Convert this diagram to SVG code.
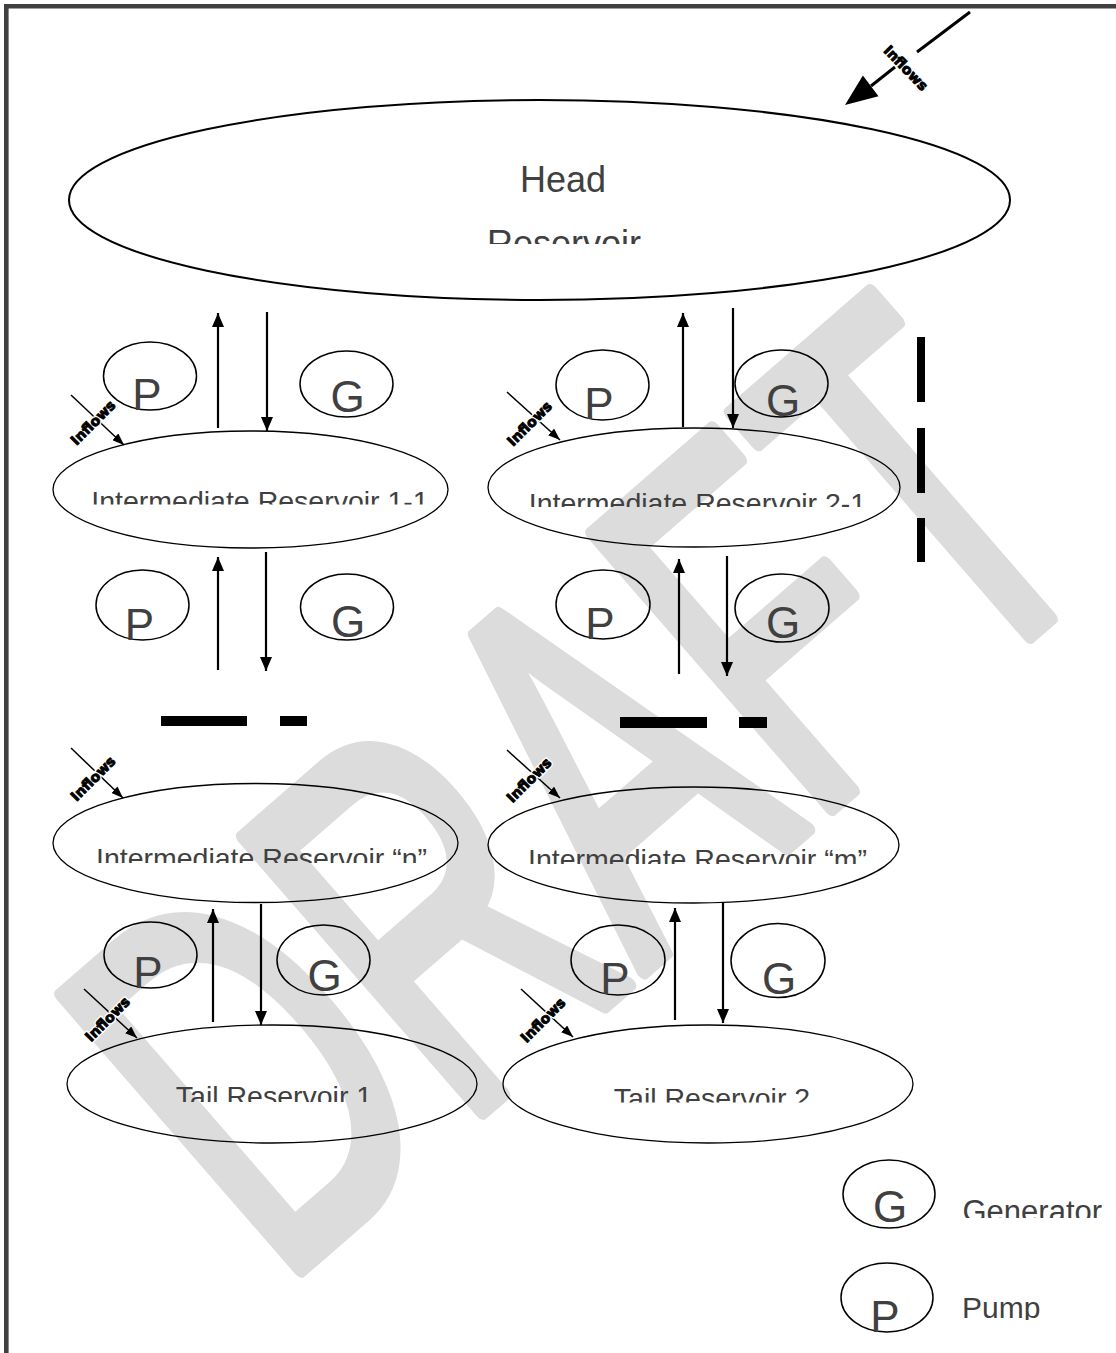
<svg xmlns="http://www.w3.org/2000/svg" width="1116" height="1353" viewBox="0 0 1116 1353">
<style>
.res{fill:none;stroke:#000;stroke-width:1.3}
.pg{fill:none;stroke:#000;stroke-width:1.5}
.lbl{font-family:"Liberation Sans",Arial,sans-serif;fill:#404040;text-anchor:middle}
.big{font-size:28.5px}
.sym{font-size:44px}
.inf{font-family:"DejaVu Sans",sans-serif;font-weight:bold;font-size:14px;text-anchor:middle}
.halo{fill:#fff;stroke:#fff;stroke-width:3.5}
.ink{fill:#000;stroke:#000;stroke-width:0.9}
.conn{stroke:#000;stroke-width:2.2;fill:none}
.inl{stroke:#000;stroke-width:1.5;fill:none}
.dash{fill:#000}
</style>
<defs>
<marker id="ah" markerUnits="userSpaceOnUse" markerWidth="14" markerHeight="12" refX="14" refY="6" orient="auto"><path d="M0,0 L14,6 L0,12 z" fill="#000"/></marker>
<marker id="ahs" markerUnits="userSpaceOnUse" markerWidth="12" markerHeight="9" refX="12" refY="4.5" orient="auto"><path d="M0,0 L12,4.5 L0,9 z" fill="#000"/></marker>
<clipPath id="cHead2"><rect x="0" y="0" width="1116" height="244"/></clipPath>
<clipPath id="c11"><rect x="0" y="0" width="1116" height="504.5"/></clipPath>
<clipPath id="c21"><rect x="0" y="0" width="1116" height="507"/></clipPath>
<clipPath id="cn"><rect x="0" y="0" width="1116" height="863"/></clipPath>
<clipPath id="cm"><rect x="0" y="0" width="1116" height="864"/></clipPath>
<clipPath id="ct1"><rect x="0" y="0" width="1116" height="1102"/></clipPath>
<clipPath id="ct2"><rect x="0" y="0" width="1116" height="1102.5"/></clipPath>
<clipPath id="cgen"><rect x="0" y="0" width="1116" height="1218"/></clipPath>
<clipPath id="cpump"><rect x="0" y="0" width="1116" height="1320"/></clipPath>
</defs>
<rect x="0" y="0" width="1116" height="1353" fill="#fff"/>
<g id="watermark">
<text transform="translate(278.5,1289) rotate(-41) scale(0.63,1)" x="0" y="0" font-family="Liberation Sans, Arial, sans-serif" font-size="529" fill="#dcdcdc" stroke="#dcdcdc" stroke-width="13" stroke-linejoin="round" vector-effect="non-scaling-stroke">DRAFT</text>
</g>
<path d="M6.3,1353 V6.3 H1116" fill="none" stroke="#404040" stroke-width="4.6"/>
<g id="head">
<ellipse cx="539.5" cy="200" rx="470.5" ry="100" fill="#fff" stroke="#000" stroke-width="2"/>
<text class="lbl" x="563" y="192" font-size="36">Head</text>
<text class="lbl" x="564" y="256" font-size="36" clip-path="url(#cHead2)">Reservoir</text>
</g>
<g id="ir11">
<ellipse class="res" cx="250.5" cy="489.5" rx="197.5" ry="58.5"/>
<text class="lbl big" x="260" y="510.5" clip-path="url(#c11)">Intermediate Reservoir 1-1</text>
</g>
<g id="ir21">
<ellipse class="res" cx="694" cy="487.5" rx="206" ry="59.5"/>
<text class="lbl big" x="697.5" y="512.5" clip-path="url(#c21)">Intermediate Reservoir 2-1</text>
</g>
<g id="irn">
<ellipse class="res" cx="255.5" cy="843" rx="202.5" ry="59.5"/>
<text class="lbl big" x="261.5" y="867.5" clip-path="url(#cn)">Intermediate Reservoir “n”</text>
</g>
<g id="irm">
<ellipse class="res" cx="693.5" cy="845" rx="205.5" ry="58"/>
<text class="lbl big" x="697.5" y="868.5" clip-path="url(#cm)">Intermediate Reservoir “m”</text>
</g>
<g id="tail1">
<ellipse class="res" cx="272" cy="1084" rx="205" ry="59"/>
<text class="lbl big" x="274" y="1105.5" clip-path="url(#ct1)">Tail Reservoir 1</text>
</g>
<g id="tail2">
<ellipse class="res" cx="708" cy="1084" rx="205" ry="59"/>
<text class="lbl big" x="712" y="1107.5" clip-path="url(#ct2)">Tail Reservoir 2</text>
</g>
<g id="p1l"><ellipse class="pg" cx="150" cy="376" rx="46.5" ry="34"/><text class="lbl sym" x="147" y="410">P</text></g>
<g id="g1l"><ellipse class="pg" cx="346.5" cy="384" rx="46.5" ry="33"/><text class="lbl sym" x="347.5" y="412">G</text></g>
<g id="p1r"><ellipse class="pg" cx="602.5" cy="385" rx="46.5" ry="35"/><text class="lbl sym" x="599" y="419">P</text></g>
<g id="g1r"><ellipse class="pg" cx="781.5" cy="383.5" rx="46.5" ry="33.5"/><text class="lbl sym" x="783" y="416">G</text></g>
<g id="p2l"><ellipse class="pg" cx="142.5" cy="605" rx="46.5" ry="35"/><text class="lbl sym" x="139.5" y="640">P</text></g>
<g id="g2l"><ellipse class="pg" cx="347" cy="607" rx="46.5" ry="33"/><text class="lbl sym" x="348" y="637">G</text></g>
<g id="p2r"><ellipse class="pg" cx="603" cy="604.5" rx="47" ry="34.5"/><text class="lbl sym" x="600" y="639">P</text></g>
<g id="g2r"><ellipse class="pg" cx="782" cy="608" rx="47" ry="34"/><text class="lbl sym" x="783" y="638">G</text></g>
<g id="p3l"><ellipse class="pg" cx="150.5" cy="955" rx="46.5" ry="33"/><text class="lbl sym" x="148" y="988">P</text></g>
<g id="g3l"><ellipse class="pg" cx="323.5" cy="960" rx="46.5" ry="35"/><text class="lbl sym" x="324.5" y="991">G</text></g>
<g id="p3r"><ellipse class="pg" cx="618" cy="960" rx="47" ry="35"/><text class="lbl sym" x="615" y="994">P</text></g>
<g id="g3r"><ellipse class="pg" cx="778" cy="960.5" rx="47" ry="37"/><text class="lbl sym" x="779" y="994">G</text></g>
<g id="legend">
<ellipse class="pg" cx="889" cy="1194" rx="46" ry="34"/><text class="lbl sym" x="890" y="1222">G</text>
<text class="lbl" x="962.5" y="1222" font-size="31" style="text-anchor:start" clip-path="url(#cgen)">Generator</text>
<ellipse class="pg" cx="887" cy="1297.5" rx="46" ry="34.5"/><text class="lbl sym" x="885" y="1332">P</text>
<text class="lbl" x="962" y="1318" font-size="30" style="text-anchor:start" clip-path="url(#cpump)">Pump</text>
</g>
<g id="dashes">
<rect class="dash" x="917" y="337" width="8" height="65"/>
<rect class="dash" x="917" y="428" width="8" height="65"/>
<rect class="dash" x="917" y="518" width="8" height="44"/>
<rect class="dash" x="161" y="716" width="86" height="10"/>
<rect class="dash" x="280" y="716" width="27" height="10"/>
<rect class="dash" x="620" y="717" width="87" height="11"/>
<rect class="dash" x="739" y="717" width="28" height="11"/>
</g>
<g id="connectors">
<line class="conn" x1="218" y1="428" x2="218" y2="313" marker-end="url(#ah)"/>
<line class="conn" x1="267" y1="312" x2="267" y2="431" marker-end="url(#ah)"/>
<line class="conn" x1="683" y1="427" x2="683" y2="313" marker-end="url(#ah)"/>
<line class="conn" x1="733" y1="308" x2="733" y2="428" marker-end="url(#ah)"/>
<line class="conn" x1="218" y1="670" x2="218" y2="557" marker-end="url(#ah)"/>
<line class="conn" x1="266" y1="552" x2="266" y2="671" marker-end="url(#ah)"/>
<line class="conn" x1="679" y1="674" x2="679" y2="559" marker-end="url(#ah)"/>
<line class="conn" x1="727" y1="556" x2="727" y2="676" marker-end="url(#ah)"/>
<line class="conn" x1="213" y1="1022" x2="213" y2="909" marker-end="url(#ah)"/>
<line class="conn" x1="261" y1="904" x2="261" y2="1025" marker-end="url(#ah)"/>
<line class="conn" x1="675" y1="1020" x2="675" y2="908" marker-end="url(#ah)"/>
<line class="conn" x1="723" y1="902" x2="723" y2="1023" marker-end="url(#ah)"/>
<line class="inl" x1="71" y1="395" x2="124" y2="445" marker-end="url(#ahs)"/>
<line class="inl" x1="507" y1="392" x2="560" y2="440" marker-end="url(#ahs)"/>
<line class="inl" x1="71" y1="748" x2="123" y2="798" marker-end="url(#ahs)"/>
<line class="inl" x1="507" y1="750" x2="560" y2="798" marker-end="url(#ahs)"/>
<line class="inl" x1="84" y1="989" x2="137" y2="1038" marker-end="url(#ahs)"/>
<line class="inl" x1="521" y1="989" x2="573" y2="1037" marker-end="url(#ahs)"/>
<line x1="970" y1="12" x2="917" y2="52" stroke="#000" stroke-width="3"/>
<line x1="895" y1="67" x2="871" y2="86" stroke="#000" stroke-width="3"/>
<polygon points="845,105 862.9,75.5 878.5,96.3" fill="#000"/>
</g>
<g id="inflow-labels">
<g transform="translate(93,422.5) rotate(-45)"><text class="inf halo" y="5">Inflows</text><text class="inf ink" y="5">Inflows</text></g>
<g transform="translate(529.5,423.5) rotate(-45)"><text class="inf halo" y="5">Inflows</text><text class="inf ink" y="5">Inflows</text></g>
<g transform="translate(93,778.5) rotate(-45)"><text class="inf halo" y="5">Inflows</text><text class="inf ink" y="5">Inflows</text></g>
<g transform="translate(529,780) rotate(-45)"><text class="inf halo" y="5">Inflows</text><text class="inf ink" y="5">Inflows</text></g>
<g transform="translate(107.5,1019) rotate(-45)"><text class="inf halo" y="5">Inflows</text><text class="inf ink" y="5">Inflows</text></g>
<g transform="translate(543,1020) rotate(-45)"><text class="inf halo" y="5">Inflows</text><text class="inf ink" y="5">Inflows</text></g>
<g transform="translate(906,68) rotate(46)"><text class="inf halo" y="5">Inflows</text><text class="inf ink" y="5">Inflows</text></g>
</g>
</svg>
